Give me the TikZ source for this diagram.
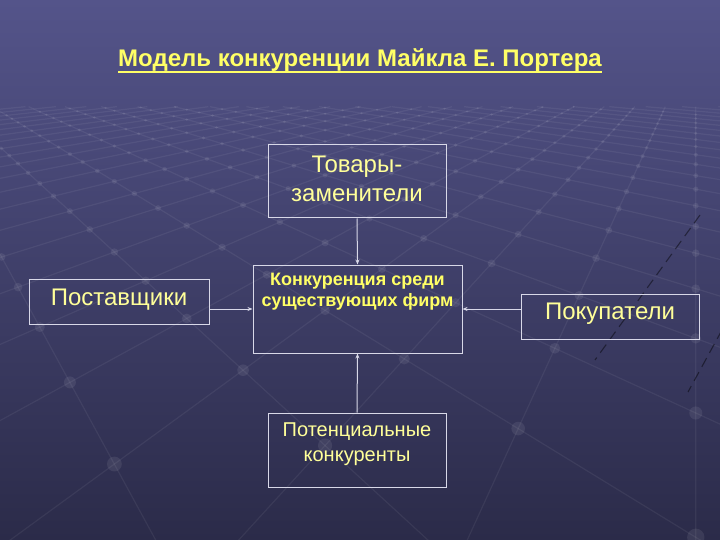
\documentclass[tikz,border=0pt]{standalone}
\usepackage{fontspec}
\setmainfont{Liberation Sans}
\usetikzlibrary{arrows.meta}
\definecolor{bgtop}{HTML}{54548A}
\definecolor{bgbot}{HTML}{2B2B49}
\definecolor{boxline}{HTML}{D8D8E8}
\definecolor{txt}{HTML}{FFFF99}
\definecolor{ttl}{HTML}{FFFF66}
\tikzset{
  box/.style={draw=boxline, line width=1pt, rectangle, inner sep=0pt},
  btext/.style={align=center, text=txt, inner sep=0pt, font=\fontsize{24}{29}\selectfont},
  ctext/.style={align=center, text=ttl, inner sep=0pt, font=\bfseries\fontsize{18}{21}\selectfont},
  arr/.style={draw=boxline, line width=1pt, -{Stealth[length=5pt,width=4pt]}},
  grid line/.style={white, opacity=0.06, line width=1.2pt},
  grid dot/.style={white, opacity=0.08},
  deco/.style={black, opacity=0.45, line width=1.1pt, dash pattern=on 10pt off 6pt}
}
\begin{document}
\begin{tikzpicture}[x=1pt,y=-1pt]
% background
\shade[top color=bgtop, bottom color=bgbot] (0,0) rectangle (720,540);
\useasboundingbox (0,0) rectangle (720,540);
\begin{scope}
\clip (0,0) rectangle (720,540);
% perspective grid, family A
\foreach \s in {-40,...,40}{
  \pgfmathsetmacro\px{\s*0.35*(-0.766)}
  \pgfmathsetmacro\pz{\s*0.35*0.643}
  \pgfmathsetmacro\ta{(0.75-\pz)/0.766}
  \pgfmathsetmacro\tb{(6-\pz)/0.766}
  \pgfmathsetmacro\xa{360+400*(\px+\ta*0.643)/0.75}
  \pgfmathsetmacro\xb{360+400*(\px+\tb*0.643)/6}
  \ifdim \xa pt<9000pt \ifdim \xa pt>-9000pt
  \draw[grid line] (\xa,{40+400/0.75}) -- (\xb,{40+400/6});
  \fi\fi
}
% family B
\foreach \s in {-40,...,40}{
  \pgfmathsetmacro\px{\s*0.35*(-0.643)}
  \pgfmathsetmacro\pz{\s*0.35*(-0.766)}
  \pgfmathsetmacro\ta{(0.75-\pz)/0.643}
  \pgfmathsetmacro\tb{(6-\pz)/0.643}
  \pgfmathsetmacro\xa{360+400*(\px-\ta*0.766)/0.75}
  \pgfmathsetmacro\xb{360+400*(\px-\tb*0.766)/6}
  \ifdim \xa pt<9000pt \ifdim \xa pt>-9000pt
  \draw[grid line] (\xa,{40+400/0.75}) -- (\xb,{40+400/6});
  \fi\fi
}
% dots at intersections
\foreach \i in {-6,...,20}{
  \foreach \j in {-20,...,6}{
    \pgfmathsetmacro\zz{0.35*(\i*0.643-\j*0.766)}
    \pgfmathsetmacro\xx{0.35*(-\i*0.766-\j*0.643)}
    \ifdim \zz pt>0.75pt \ifdim \zz pt<6pt
      \fill[grid dot] ({360+400*\xx/\zz},{40+400/\zz}) circle ({7/\zz});
    \fi\fi
  }
}
\draw[deco] (700,215) -- (595,360);
\draw[deco] (722,330) -- (688,392);
\end{scope}

% title
\node[text=ttl, inner sep=0pt, font=\bfseries\fontsize{24}{28}\selectfont, anchor=base] (title) at (360,67) {Модель конкуренции Майкла Е. Портера};
\draw[ttl, line width=1.8pt] ([yshift=-5pt]title.base west) -- ([yshift=-5pt]title.base east);

% boxes
\node[box, minimum width=178pt, minimum height=73pt] (tov) at (357,181.5) {};
\node[btext] (tovt) at (357,178.5) {Товары-\\заменители};
\node[box, minimum width=209pt, minimum height=88pt] (cen) at (357.5,309) {};
\node[ctext] (cent) at (357.5,291.5) {Конкуренция среди\\существующих фирм};
\node[box, minimum width=180pt, minimum height=45pt] (post) at (119,301.5) {};
\node[btext] (postt) at (119,299.5) {Поставщики};
\node[box, minimum width=178pt, minimum height=45pt] (pok) at (610,316.5) {};
\node[btext] (pokt) at (610,314) {Покупатели};
\node[box, minimum width=178pt, minimum height=74pt] (pot) at (357,450) {};
\node[btext, font=\fontsize{20}{25}\selectfont] (pott) at (357,444) {Потенциальные\\конкуренты};

\coordinate (mid) at (357,309);
\draw[arr] (tov.south) -- (cen.north);
\draw[arr] (pot.north) -- (cen.south);
\draw[arr] (post.east |- mid) -- (cen.west |- mid);
\draw[arr] (pok.west |- mid) -- (cen.east |- mid);
\end{tikzpicture}
\end{document}
